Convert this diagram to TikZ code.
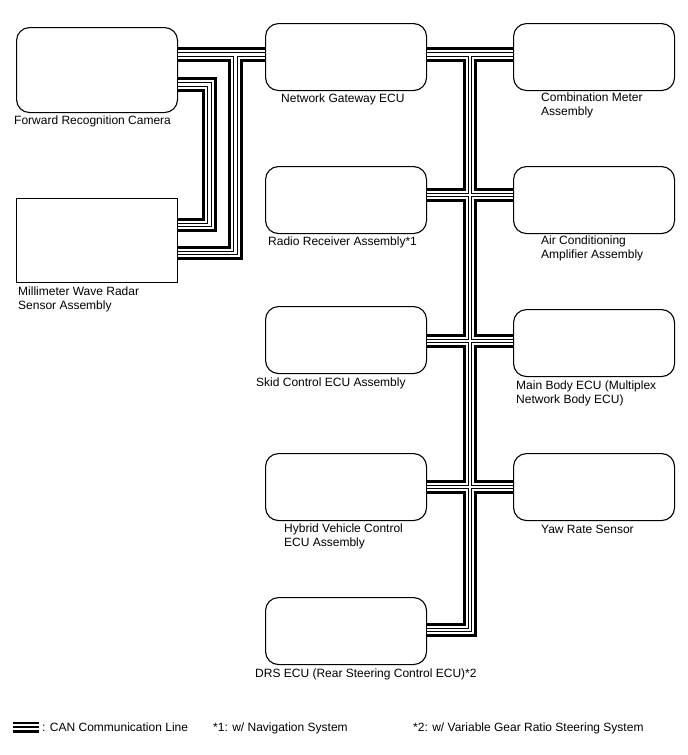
\documentclass[tikz,border=0pt]{standalone}
\usepackage{fontspec}
\setmainfont{Liberation Sans}
\begin{document}
\begin{tikzpicture}[x=1pt,y=-1pt,
  box/.style={draw, line width=1.1pt, fill=white, minimum width=161pt, minimum height=67pt, anchor=north west, inner sep=0pt},
  ecu/.style={box, rounded corners=13pt},
  lbl/.style={font=\fontsize{12}{13.7}\selectfont, inner sep=0pt, align=left, anchor=base west},
]
\useasboundingbox (0,0) rectangle (688,755);
% boxes
\node[ecu, minimum height=85pt] (cam) at (16,27) {};
\node[box, minimum height=84pt] (radar) at (16,198) {};
\node[ecu] (gw) at (265,23) {};
\node[ecu] (cm) at (513,23) {};
\node[ecu] (radio) at (265,166) {};
\node[ecu] (ac) at (513,166) {};
\node[ecu] (skid) at (265,306) {};
\node[ecu] (mb) at (513,309) {};
\node[ecu] (hv) at (265,453) {};
\node[ecu] (yaw) at (513,453) {};
\node[ecu] (drs) at (265,597) {};
% labels (multi-line: coordinate is the baseline of the last line)
\node[lbl] (tcam) at (14,124) {Forward Recognition Camera};
\node[lbl] (tradar) at (18,309.5) {Millimeter Wave Radar\\Sensor Assembly};
\node[lbl] (tgw) at (281,102) {Network Gateway ECU};
\node[lbl] (tcm) at (541,115.5) {Combination Meter\\Assembly};
\node[lbl] (tradio) at (268,245) {Radio Receiver Assembly*1};
\node[lbl] (tac) at (541,258.5) {Air Conditioning\\Amplifier Assembly};
\node[lbl] (tskid) at (256,386) {Skid Control ECU Assembly};
\node[lbl] (tmb) at (516,403.5) {Main Body ECU (Multiplex\\Network Body ECU)};
\node[lbl] (thv) at (284,546.5) {Hybrid Vehicle Control\\ECU Assembly};
\node[lbl] (tyaw) at (541,533) {Yaw Rate Sensor};
\node[lbl] (tdrs) at (255,677) {DRS ECU (Rear Steering Control ECU)*2};
% bus coordinates
\coordinate (y1) at (0,54.5);
\coordinate (y2) at (0,195);
\coordinate (y3) at (0,341);
\coordinate (y4) at (0,487);
\coordinate (y5) at (0,630);
\coordinate (yc) at (0,84.5);
\coordinate (ya) at (0,253);
\coordinate (yb) at (0,225);
\coordinate (ja) at (235.5,54.5);
\coordinate (jak) at (235.5,253);
\coordinate (jb) at (209.5,84.5);
\coordinate (jbk) at (209.5,225);
\coordinate (jt) at (470,54.5);
\coordinate (jtk) at (470,630);
\def\busnet{
  (cam.east |- y1) -- (gw.west |- y1)
  (gw.east |- y1) -- (cm.west |- y1)
  (ja) -- (jak) -- (radar.east |- ya)
  (cam.east |- yc) -- (jb) -- (jbk) -- (radar.east |- yb)
  (jt) -- (jtk) -- (drs.east |- y5)
  (radio.east |- y2) -- (ac.west |- y2)
  (skid.east |- y3) -- (mb.west |- y3)
  (hv.east |- y4) -- (yaw.west |- y4)
}
\foreach \w/\c in {14.6/black, 8.9/white, 4.3/black, 2.3/white} {
  \draw[line width=\w pt, draw=\c, line join=miter, line cap=butt] \busnet;
}
% legend
\draw[line width=1.3pt] (13,723) -- (39,723);
\draw[line width=1.8pt] (13,727) -- (39,727);
\draw[line width=2.6pt] (13,731.3) -- (39,731.3);
\node[lbl] (tleg) at (42,731) {: CAN Communication Line};
\node[lbl] (tn1) at (213,731) {*1: w/ Navigation System};
\node[lbl] (tn2) at (413,731) {*2: w/ Variable Gear Ratio Steering System};
\end{tikzpicture}
\end{document}
